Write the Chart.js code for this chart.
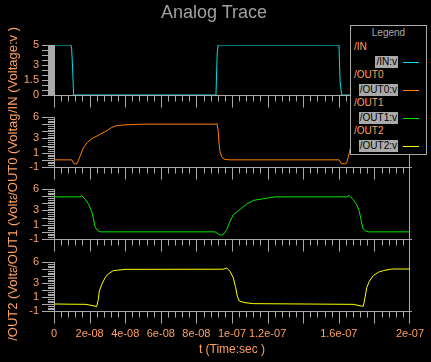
<!DOCTYPE html>
<html><head><meta charset="utf-8">
<script src="https://cdn.jsdelivr.net/npm/chart.js@4.4.1/dist/chart.umd.min.js"></script>
<style>
html,body{margin:0;padding:0;background:#000;width:431px;height:362px;overflow:hidden;}
#wrap{position:relative;width:431px;height:362px;background:#000;}
canvas{position:absolute;left:0;top:0;}
.t{position:absolute;font-family:"Liberation Sans",Arial,sans-serif;white-space:nowrap;}
</style></head><body>
<div id="wrap">
<canvas id="c0" width="431" height="362"></canvas>
<canvas id="c1" width="431" height="362"></canvas>
<canvas id="c2" width="431" height="362"></canvas>
<canvas id="c3" width="431" height="362"></canvas>
</div>
<script>
// ---------- DATA ----------
const seriesNames = ['/IN', '/OUT0', '/OUT1', '/OUT2'];
const seriesKeys = ['/IN:v', '/OUT0:v', '/OUT1:v', '/OUT2:v'];
const yTitles = ['/IN (Voltage:v )', '/OUT0 (Voltage:v )', '/OUT1 (Voltage:v )', '/OUT2 (Voltage:v )'];
const xTitle = 't (Time:sec )';
const chartTitle = 'Analog Trace';

const tIn = [0, 9.5e-9, 9.9e-9, 1.05e-8, 1.1e-8, 9.1e-8, 9.12e-8, 9.17e-8, 9.22e-8, 1.601e-7, 1.603e-7, 1.607e-7, 1.616e-7, 2e-7];
const vIn = [5, 5, 4.7, 2.5, 0, 0, 1.3, 4.2, 5, 5, 3.7, 1.4, 0, 0];

const tOut0 = [0, 9.94e-9, 1.124e-8, 1.292e-8, 1.461e-8, 1.646e-8, 1.871e-8, 2.118e-8, 2.584e-8, 2.961e-8, 3.242e-8, 3.522e-8, 3.989e-8, 5.0e-8,
  9.101e-8, 9.157e-8, 9.23e-8, 9.27e-8, 9.326e-8, 9.421e-8, 9.607e-8, 9.888e-8,
  1.601e-7, 1.616e-7, 1.632e-7, 1.644e-7, 1.659e-7, 1.665e-7, 1.69e-7, 1.71e-7, 1.76e-7, 1.8e-7, 1.83e-7, 1.86e-7, 1.9e-7, 2e-7];
const vOut0 = [0, 0, -0.55, -0.55, 0.48, 1.66, 2.44, 2.96, 3.56, 4.08, 4.54, 4.78, 4.9, 5,
  5, 5.07, 3.98, 2.36, 1.18, 0.4, 0.05, 0,
  0, -0.55, -0.55, -0.44, 0.96, 1.66, 2.44, 2.96, 3.56, 4.08, 4.54, 4.78, 4.9, 5];

const tOut1 = [0, 1.461e-8, 1.556e-8, 1.742e-8, 1.927e-8, 2.118e-8, 2.208e-8, 2.303e-8, 2.399e-8, 2.584e-8,
  9.045e-8, 9.326e-8, 9.478e-8, 9.702e-8, 9.888e-8, 1.0073e-7, 1.0298e-7, 1.0545e-7, 1.0826e-7, 1.1197e-7, 1.1758e-7, 1.2416e-7,
  1.6444e-7, 1.6573e-7, 1.6815e-7, 1.7006e-7, 1.7152e-7, 1.7247e-7, 1.7343e-7, 1.7472e-7, 1.7657e-7, 2e-7];
const vOut1 = [4.9, 4.9, 5.06, 4.6, 3.94, 2.86, 1.94, 0.76, 0.3, 0,
  0, -0.44, -0.44, 0.3, 1.46, 2.4, 2.86, 3.34, 3.9, 4.4, 4.64, 4.9,
  4.9, 5.1, 4.5, 3.8, 2.86, 1.7, 0.54, 0.16, 0, 0];

const tOut2 = [0, 1.798e-8, 2.303e-8, 2.399e-8, 2.489e-8, 2.545e-8, 2.68e-8, 2.865e-8, 3.051e-8, 3.331e-8, 3.708e-8, 3.989e-8,
  9.494e-8, 9.702e-8, 9.888e-8, 1.0073e-7, 1.0208e-7, 1.0298e-7, 1.041e-7, 1.073e-7, 1.1197e-7,
  1.6815e-7, 1.7287e-7, 1.7376e-7, 1.7472e-7, 1.7567e-7, 1.7713e-7, 1.7938e-7, 1.8219e-7, 1.85e-7, 1.8972e-7, 2e-7];
const vOut2 = [0, -0.05, -0.3, -0.38, 0.66, 1.83, 2.78, 3.73, 4.3, 4.77, 4.87, 4.95,
  4.97, 5.15, 4.67, 3.73, 2.32, 1.13, 0.42, 0.19, 0.05,
  -0.05, -0.3, -0.33, 0.9, 2.32, 3.25, 4.06, 4.53, 4.77, 5.0, 5.0];

const xTickValues = [0, 2e-8, 4e-8, 6e-8, 8e-8, 1e-7, 1.2e-7, 1.6e-7, 2e-7];
const xTickLabels = ['0', '2e-08', '4e-08', '6e-08', '8e-08', '1e-07', '1.2e-07', '1.6e-07', '2e-07'];
const yTicksIn = [0, 1.5, 3, 5];
const yTickLabelsIn = ['0', '1.5', '3', '5'];
const yTicksOut = [-1, 1, 3, 6];
const yTickLabelsOut = ['-1', '1', '3', '6'];

// ---------- STYLE / LAYOUT ----------
const COLORS = ['#00e0e8', '#ff8000', '#00e800', '#ffff00'];
const GRAY = '#aaaaaa';
const LABEL = '#ffa060';
const FONT = '"Liberation Sans", Arial, sans-serif';
const W = 431, H = 362, LEFT = 54, RIGHT = 410, XH = 30;
const panels = [
  {top: 45, bottom: 95, min: 0, max: 5, ticks: yTicksIn, labels: yTickLabelsIn, major: 0.5, minor: 0.1, gap: 0},
  {top: 117, bottom: 167, min: -1, max: 6, ticks: yTicksOut, labels: yTickLabelsOut, major: 1, minor: 0.25, gap: 23},
  {top: 189, bottom: 239, min: -1, max: 6, ticks: yTicksOut, labels: yTickLabelsOut, major: 1, minor: 0.25, gap: 23},
  {top: 262, bottom: 311, min: -1, max: 6, ticks: yTicksOut, labels: yTickLabelsOut, major: 1, minor: 0.25, gap: 24}
];
const times = [tIn, tOut0, tOut1, tOut2];
const vals = [vIn, vOut0, vOut1, vOut2];

const axesPlugin = {
  id: 'axesDraw',
  beforeDatasetsDraw(chart, args, opts) {
    const {ctx, chartArea: a} = chart;
    const x = chart.scales.x, y = chart.scales.y;
    const p = opts.panel;
    ctx.save();
    ctx.strokeStyle = GRAY;
    ctx.lineWidth = 1;
    ctx.beginPath();
    const L = Math.round(a.left) + 0.5;
    const B = Math.round(a.bottom) + 0.5;
    const R = Math.round(a.right) - 0.5;
    // y axis line
    ctx.moveTo(L, Math.round(a.top)); ctx.lineTo(L, B);
    // y ticks
    const n = Math.round((p.max - p.min) / p.minor);
    const ratio = Math.round(p.major / p.minor);
    for (let i = 0; i <= n; i++) {
      const v = p.min + i * p.minor;
      const py = Math.round(y.getPixelForValue(v)) + 0.5;
      const len = (i % ratio === 0) ? 12 : 6;
      ctx.moveTo(a.left - len, py); ctx.lineTo(L, py);
    }
    // x axis line
    ctx.moveTo(a.left, B); ctx.lineTo(a.right + 2, B);
    // x ticks
    const step = 4e-9;
    const nx = Math.round((x.max - x.min) / step);
    for (let i = 0; i <= nx; i++) {
      const px = Math.round(x.getPixelForValue(x.min + i * step)) + (i === nx ? -0.5 : 0.5);
      const len = (i % 5 === 0) ? 12 : 6;
      ctx.moveTo(px, B); ctx.lineTo(px, B + len);
    }
    // right border line
    ctx.moveTo(R, Math.round(a.top) - p.gap); ctx.lineTo(R, B);
    ctx.stroke();
    ctx.restore();
  }
};

panels.forEach((p, k) => {
  const pts = times[k].map((t, i) => ({x: t, y: vals[k][i]}));
  const bottomPanel = (k === panels.length - 1);
  new Chart(document.getElementById('c' + k), {
    type: 'line',
    data: {datasets: [{label: seriesKeys[k], data: pts, borderColor: COLORS[k], borderWidth: 1,
      pointRadius: 0, tension: 0, fill: false}]},
    options: {
      responsive: false, animation: false, devicePixelRatio: 1,
      layout: {padding: {left: 0, right: W - RIGHT, top: p.top, bottom: H - p.bottom - XH}},
      plugins: {legend: {display: false}, tooltip: {enabled: false}, title: {display: false},
        axesDraw: {panel: p}},
      scales: {
        x: {
          type: 'linear', min: 0, max: 2e-7,
          afterFit: s => { s.height = XH; },
          afterBuildTicks: s => { s.ticks = xTickValues.map(v => ({value: v})); },
          ticks: {display: bottomPanel, autoSkip: false, maxRotation: 0, minRotation: 0, color: LABEL,
            font: {family: FONT, size: 11}, padding: 4,
            callback: (v, i) => xTickLabels[i]},
          grid: {display: true, drawOnChartArea: false, drawTicks: true, tickLength: 12, color: 'rgba(0,0,0,0)'},
          border: {display: false}
        },
        y: {
          type: 'linear', min: p.min, max: p.max,
          afterFit: s => { s.width = LEFT; },
          afterBuildTicks: s => { s.ticks = p.ticks.map(v => ({value: v})); },
          ticks: {autoSkip: false, color: LABEL, font: {family: FONT, size: 11}, padding: 3,
            callback: (v, i) => p.labels[i]},
          grid: {display: true, drawOnChartArea: false, drawTicks: true, tickLength: 12, color: 'rgba(0,0,0,0)'},
          border: {display: false}
        }
      }
    },
    plugins: [axesPlugin]
  });
});

// ---------- TEXT (title, axis titles, legend) ----------
const wrap = document.getElementById('wrap');
function addText(txt, css) {
  const d = document.createElement('div');
  d.className = 't';
  d.textContent = txt;
  Object.assign(d.style, css);
  wrap.appendChild(d);
  return d;
}
addText(chartTitle, {left: '0px', width: '428px', textAlign: 'center', top: '3px', fontSize: '18px', lineHeight: '18px', color: '#a0a0a0'});
addText(xTitle, {left: LEFT + 'px', width: (RIGHT - LEFT) + 'px', textAlign: 'center', top: '342px', fontSize: '12px', lineHeight: '14px', color: LABEL});
// y titles: lower panels first so upper ones overlap them
for (let k = panels.length - 1; k >= 0; k--) {
  const p = panels[k];
  const cy = (p.top + p.bottom) / 2;
  addText(yTitles[k], {left: '13px', top: cy + 'px', fontSize: '13px', lineHeight: '14px', color: LABEL,
    background: '#000', transform: 'translate(-50%,-50%) rotate(-90deg)', zIndex: 5 + (panels.length - k)});
}
// legend
const leg = document.createElement('div');
Object.assign(leg.style, {position: 'absolute', left: '350px', top: '25px', width: '77px', height: '130px',
  boxSizing: 'border-box', border: '1px solid ' + GRAY, background: '#000', zIndex: 20});
wrap.appendChild(leg);
function legText(txt, css) {
  const d = document.createElement('div');
  d.className = 't';
  d.textContent = txt;
  Object.assign(d.style, {fontSize: '10px', lineHeight: '12px'}, css);
  leg.appendChild(d);
  return d;
}
legText('Legend', {left: '0px', width: '75px', textAlign: 'center', top: '1px', color: GRAY});
seriesNames.forEach((nm, k) => {
  const base = 28 * k;
  legText(nm, {left: '3px', top: (15 + base) + 'px', color: LABEL});
  legText(seriesKeys[k], {right: '28px', top: (30 + base) + 'px', color: '#000', background: GRAY, padding: '0 1px'});
  const ln = document.createElement('div');
  Object.assign(ln.style, {position: 'absolute', left: '52px', width: '16px', height: '1px', top: (36 + base) + 'px', background: COLORS[k]});
  leg.appendChild(ln);
});
</script>
</body></html>
